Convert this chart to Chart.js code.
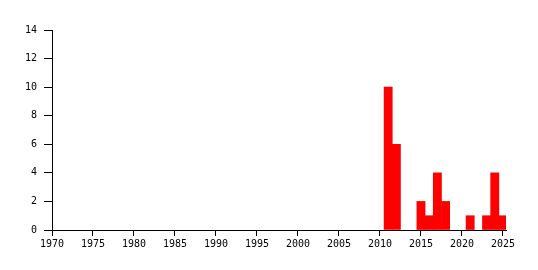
<!DOCTYPE html>
<html>
<head>
<meta charset="utf-8">
<script src="https://cdn.jsdelivr.net/npm/chart.js@4/dist/chart.umd.min.js"></script>
<style>
html,body{margin:0;padding:0;background:#fff;}
#wrap{width:538px;height:270px;position:relative;}
</style>
</head>
<body>
<div id="wrap"><canvas id="c" width="538" height="270"></canvas></div>
<script>
const years = [2011, 2012, 2015, 2016, 2017, 2018, 2021, 2023, 2024, 2025];
const counts = [10, 6, 2, 1, 4, 2, 1, 1, 4, 1];
const xTicks = [1970, 1975, 1980, 1985, 1990, 1995, 2000, 2005, 2010, 2015, 2020, 2025];
const yTicks = [0, 2, 4, 6, 8, 10, 12, 14];

const font = {family: "'DejaVu Sans Mono', monospace", size: 10};

new Chart(document.getElementById('c'), {
  type: 'bar',
  data: {
    datasets: [{
      data: years.map((y, i) => ({x: y, y: counts[i]})),
      backgroundColor: '#ff0000',
      borderWidth: 0,
      barPercentage: 1.0,
      categoryPercentage: 1.0
    }]
  },
  options: {
    responsive: false,
    animation: false,
    events: [],
    layout: {padding: {top: 30, right: 32, left: 0, bottom: 0}},
    plugins: {legend: {display: false}, tooltip: {enabled: false}},
    scales: {
      x: {
        type: 'linear',
        min: 1970,
        max: 2025.37,
        offset: false,
        afterBuildTicks: s => { s.ticks = xTicks.map(v => ({value: v})); },
        afterFit: s => { s.height = 40; },
        ticks: {color: '#000', font: font, maxRotation: 0, autoSkip: false, padding: 2,
                callback: v => String(v)},
        grid: {display: true, offset: false, drawOnChartArea: false, drawTicks: true, tickLength: 6, tickColor: '#000', lineWidth: 1},
        border: {display: true, color: '#000', width: 1}
      },
      y: {
        min: 0,
        max: 14,
        afterBuildTicks: s => { s.ticks = yTicks.map(v => ({value: v})); },
        afterFit: s => { s.width = 52; },
        ticks: {color: '#000', font: font, padding: 7},
        grid: {display: true, drawOnChartArea: false, drawTicks: true, tickLength: 8, tickColor: '#000', lineWidth: 1},
        border: {display: true, color: '#000', width: 1}
      }
    }
  }
});
</script>
</body>
</html>
